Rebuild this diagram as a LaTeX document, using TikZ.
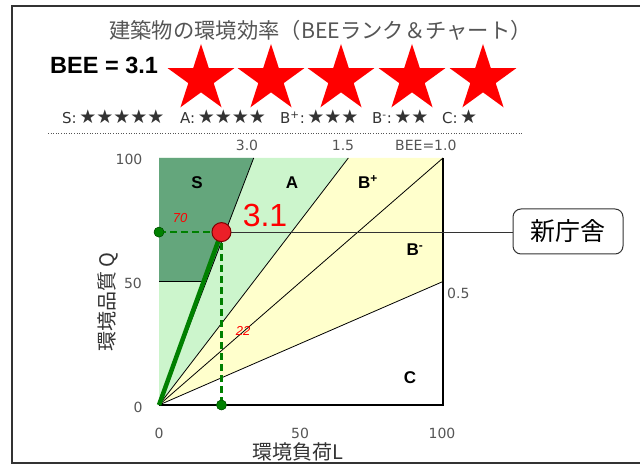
\documentclass[tikz,border=0pt]{standalone}
\usepackage{fontspec}
\setmainfont{Liberation Sans}
\newfontfamily\jpfont{Noto Sans CJK JP}
\newfontfamily\dvfont{DejaVu Sans}
\usetikzlibrary{shapes.geometric}

\definecolor{sgreen}{RGB}{100,166,124}
\definecolor{agreen}{RGB}{204,245,204}
\definecolor{byellow}{RGB}{255,255,204}
\definecolor{markgreen}{RGB}{0,128,0}
\definecolor{framegray}{RGB}{51,51,51}
\definecolor{textgray}{RGB}{85,85,85}
\definecolor{markred}{RGB}{235,32,40}

\tikzset{
  bigstar/.style={star, star points=5, star point ratio=2.618, minimum size=70pt, inner sep=0pt, fill=red},
  ranktext/.style={anchor=west, inner sep=0pt, text=framegray, font=\dvfont\fontsize{15}{17}\selectfont},
  ticklabel/.style={text=textgray, font=\dvfont\fontsize{14}{16}\selectfont, inner sep=1pt},
  zonelabel/.style={font=\bfseries\fontsize{17}{19}\selectfont},
  valuelabel/.style={text=red, font=\itshape\fontsize{13}{15}\selectfont, inner sep=0pt},
  bound/.style={black, line width=0.8pt},
  greendot/.style={circle, fill=markgreen, draw=black!40!markgreen, inner sep=0pt, minimum size=10pt},
}

\begin{document}
\begin{tikzpicture}[x=1pt, y=-1pt]
    \useasboundingbox (0,0) rectangle (640,465);
    \draw[framegray, line width=2.5pt] (640,6) -- (12,6) -- (12,463) -- (640,463);

    % header
    \node[text=textgray, font=\jpfont\fontsize{21.3}{25}\selectfont] at (320.5,30) (title) {建築物の環境効率（BEEランク＆チャート）};
    \node[anchor=west, inner sep=0pt, font=\bfseries\fontsize{23.5}{27}\selectfont] at (50,65) (bee) {BEE = 3.1};
    \node[bigstar] at (201,79) (star1) {};
    \node[bigstar] at (271,79) (star2) {};
    \node[bigstar] at (341,79) (star3) {};
    \node[bigstar] at (412,79) (star4) {};
    \node[bigstar] at (483,79) (star5) {};

    \node[ranktext] at (62,117) (rankS) {S:\,{\fontsize{19}{21}\selectfont ★★★★★}};
    \node[ranktext] at (180,117) (rankA) {A:\,{\fontsize{19}{21}\selectfont ★★★★}};
    \node[ranktext] at (280,117) (rankBp) {B\textsuperscript{+}:\,{\fontsize{19}{21}\selectfont ★★★}};
    \node[ranktext] at (372,117) (rankBm) {B\textsuperscript{-}:\,{\fontsize{19}{21}\selectfont ★★}};
    \node[ranktext] at (442,117) (rankC) {C:\,{\fontsize{19}{21}\selectfont ★}};
    \draw[dotted, textgray, line width=0.6pt] (48,133) -- (523,133);

    % chart, in L-Q units
    \begin{scope}[shift={(159,405)}, x=2.84pt, y=2.47pt]
        \fill[agreen] (0,0) -- (0,100) -- (200/3,100) -- cycle;
        \fill[byellow] (0,0) -- (200/3,100) -- (100,100) -- (100,50) -- cycle;
        \fill[sgreen] (0,50) -- (50/3,50) -- (100/3,100) -- (0,100) -- cycle;

        \coordinate (O) at (0,0);
        \coordinate (k30) at (100/3,100);
        \coordinate (k15) at (200/3,100);
        \coordinate (k10) at (100,100);
        \coordinate (k05) at (100,50);
        \coordinate (Lend) at (100,0);

        \draw[bound] (O) -- (k30);
        \draw[bound] (O) -- (k15);
        \draw[bound] (O) -- (k10);
        \draw[bound] (O) -- (k05);
        \draw[bound] (0,50) -- (50/3,50);
        \draw[black, line width=1.3pt] (O) -- (Lend) -- (k10);

        \node[circle, minimum size=19pt, inner sep=0pt] at (22,70) (pt) {};
        \node[greendot] at (0,70) (q70) {};
        \node[greendot] at (22,0) (l22) {};
    \end{scope}

    \node[draw=framegray, line width=1pt, rounded corners=8pt, minimum width=110pt, minimum height=45pt, font=\jpfont\fontsize{25}{28}\selectfont] at (568,231.5) (newbldg) {新庁舎};
    \draw[framegray, line width=0.8pt] (pt.center) -- (pt.center -| newbldg.west);

    \draw[markgreen, line width=4.5pt] (O) -- (pt.center);
    \draw[markgreen, line width=2.4pt, dash pattern=on 7pt off 4pt] (q70.center) -- (pt.center);
    \draw[markgreen, line width=2.4pt, dash pattern=on 7pt off 4pt] (pt.center) -- (l22.center);
    \node[greendot] at (q70) {};
    \node[greendot] at (l22) {};
    \node[circle, fill=markred, draw=black!50!red, line width=1pt, minimum size=19pt, inner sep=0pt] at (pt) (ptmark) {};

    % labels
    \node[text=red, font=\fontsize{32}{36}\selectfont] at (265,215) (val) {3.1};
    \node[valuelabel] at (180,218) (v70) {70};
    \node[valuelabel] at (243,331) (v22) {22};

    \node[zonelabel] at (197,183) (zS) {S};
    \node[zonelabel] at (292,183) (zA) {A};
    \node[zonelabel] at (368,182) (zBp) {B\textsuperscript{+}};
    \node[zonelabel] at (415,250) (zBm) {B\textsuperscript{-}};
    \node[zonelabel] at (410,378) (zC) {C};

    \node[ticklabel] at (129,159) (y100) {100};
    \node[ticklabel] at (133,283) (y50) {50};
    \node[ticklabel] at (138,407) (y0) {0};
    \node[ticklabel] at (159,433) (x0) {0};
    \node[ticklabel] at (300,433) (x50) {50};
    \node[ticklabel] at (442,433) (x100) {100};
    \node[ticklabel] at (247,145) (t30) {3.0};
    \node[ticklabel] at (343,145) (t15) {1.5};
    \node[ticklabel, anchor=west] at (394,145) (t10) {BEE=1.0};
    \node[ticklabel, anchor=west] at (446,293) (t05) {0.5};

    \node[text=framegray, font=\jpfont\fontsize{20}{24}\selectfont] at (298,452) (xtitle) {環境負荷L};
    \node[text=framegray, rotate=90, font=\jpfont\fontsize{20}{24}\selectfont] at (108,302) (ytitle) {環境品質 Q};
\end{tikzpicture}
\end{document}
